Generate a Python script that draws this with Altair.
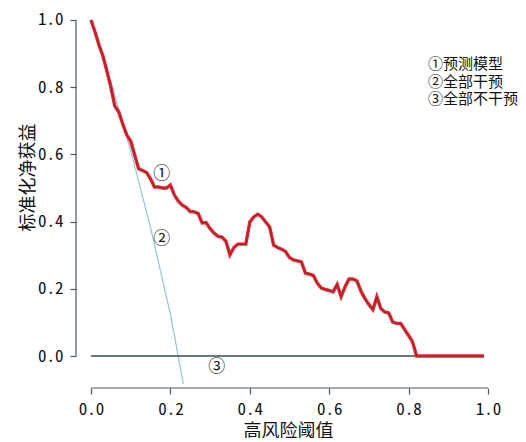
import altair as alt
import pandas as pd

# ---- data ----
thresholds = [i / 100 for i in range(100)]  # threshold grid 0.00 .. 0.99
model_nb = [
    1.000, 0.965, 0.926, 0.893, 0.848, 0.800, 0.744, 0.726, 0.690, 0.658,
    0.640, 0.598, 0.557, 0.552, 0.546, 0.527, 0.503, 0.503, 0.500, 0.500,
    0.509, 0.479, 0.461, 0.449, 0.442, 0.430, 0.429, 0.424, 0.396, 0.397,
    0.379, 0.366, 0.356, 0.354, 0.341, 0.301, 0.323, 0.333, 0.333, 0.333,
    0.399, 0.414, 0.422, 0.414, 0.399, 0.384, 0.330, 0.323, 0.318, 0.311,
    0.293, 0.286, 0.283, 0.280, 0.247, 0.244, 0.240, 0.217, 0.202, 0.198,
    0.195, 0.191, 0.213, 0.177, 0.206, 0.229, 0.229, 0.223, 0.193, 0.171,
    0.153, 0.138, 0.176, 0.141, 0.131, 0.128, 0.101, 0.097, 0.097, 0.079,
    0.061, 0.042, 0.000, 0.000, 0.000, 0.000, 0.000, 0.000, 0.000, 0.000,
    0.000, 0.000, 0.000, 0.000, 0.000, 0.000, 0.000, 0.000, 0.000, 0.000,
]
all_x = [0.00, 0.05, 0.10, 0.15, 0.20, 0.2325]
all_nb = [1.000, 0.816, 0.611, 0.382, 0.125, -0.083]
none_x = [0.00, 0.99]
none_nb = [0.0, 0.0]

tick_values = [0.0, 0.2, 0.4, 0.6, 0.8, 1.0]

ann_text = ["①", "②", "③"]
ann_x = [0.178, 0.178, 0.317]
ann_y = [0.542, 0.347, -0.034]

legend_text = ["①预测模型", "②全部干预", "③全部不干预"]
legend_x = [0.849, 0.849, 0.849]
legend_y = [0.869, 0.816, 0.764]

x_dom = [-0.0378, 1.0403]
y_dom = [-0.0952, 1.0357]

# ---- tables ----
model_df = pd.DataFrame({"x": thresholds, "y": model_nb})
all_df = pd.DataFrame({"x": all_x, "y": all_nb})
none_df = pd.DataFrame({"x": none_x, "y": none_nb})
ann_df = pd.DataFrame({"x": ann_x, "y": ann_y, "t": ann_text})
leg_df = pd.DataFrame({"x": legend_x, "y": legend_y, "t": legend_text})
xaxis_df = pd.DataFrame({"x": [tick_values[0]], "x2": [tick_values[-1]], "y": [y_dom[0]]})
yaxis_df = pd.DataFrame({"y": [tick_values[0]], "y2": [tick_values[-1]], "x": [x_dom[0]]})

CJK = "Noto Sans CJK SC"
MONO = "Noto Sans Mono CJK SC, DejaVu Sans Mono"
AXC = "#4a5866"

xs = alt.Scale(domain=x_dom, nice=False, zero=False)
ys = alt.Scale(domain=y_dom, nice=False, zero=False)

X = alt.X("x:Q", scale=xs, axis=alt.Axis(
    values=tick_values, format=".1f", domain=False, grid=False,
    ticks=True, tickSize=6, tickColor=AXC, tickWidth=1.2,
    labelFont=MONO, labelFontSize=17, labelColor="#111111", labelPadding=7,
    title="高风险阈值", titleFont=CJK, titleFontSize=18, titleFontWeight="normal",
    titleColor="#111111", titlePadding=5, titleX=212))
Y = alt.Y("y:Q", scale=ys, axis=alt.Axis(
    values=tick_values, format=".1f", domain=False, grid=False,
    ticks=True, tickSize=6, tickColor=AXC, tickWidth=1.2,
    labelFont=MONO, labelFontSize=17, labelColor="#111111", labelPadding=7,
    title="标准化净获益", titleFont=CJK, titleFontSize=18, titleFontWeight="normal",
    titleColor="#111111", titlePadding=0, titleY=169))

base_x = alt.X("x:Q", scale=xs)
base_y = alt.Y("y:Q", scale=ys)

all_line = alt.Chart(all_df).mark_line(color="#9cc6dc", strokeWidth=1.3, clip=True).encode(x=X, y=Y)
none_line = alt.Chart(none_df).mark_line(color="#3d4a55", strokeWidth=1.6, clip=True).encode(x=base_x, y=base_y)
model_red = alt.Chart(model_df).mark_line(color="#e8262f", strokeWidth=3.4, clip=True).encode(x=base_x, y=base_y)
model_core = alt.Chart(model_df).mark_line(color="#5a2a2c", strokeWidth=0.9, opacity=0.7, clip=True).encode(x=base_x, y=base_y)

x_axis_line = alt.Chart(xaxis_df).mark_rule(color=AXC, strokeWidth=1.2).encode(
    x=base_x, x2="x2:Q", y=base_y)
y_axis_line = alt.Chart(yaxis_df).mark_rule(color=AXC, strokeWidth=1.2).encode(
    x=base_x, y=base_y, y2="y2:Q")

ann = alt.Chart(ann_df).mark_text(font=CJK, fontSize=17, color="#111111",
                                   align="center", baseline="middle").encode(
    x=base_x, y=base_y, text="t:N")
leg = alt.Chart(leg_df).mark_text(font=CJK, fontSize=15, color="#111111",
                                   align="left", baseline="middle").encode(
    x=base_x, y=base_y, text="t:N")

chart = alt.layer(
    all_line, none_line, model_red, model_core, x_axis_line, y_axis_line, ann, leg
).properties(
    width=428, height=380,
    autosize=alt.AutoSizeParams(type="none"),
    padding={"left": 68, "top": 0, "right": 14, "bottom": 50},
    background="white",
).configure_view(stroke=None)

chart.save("out.html", embed_options={"renderer": "svg", "actions": False})
